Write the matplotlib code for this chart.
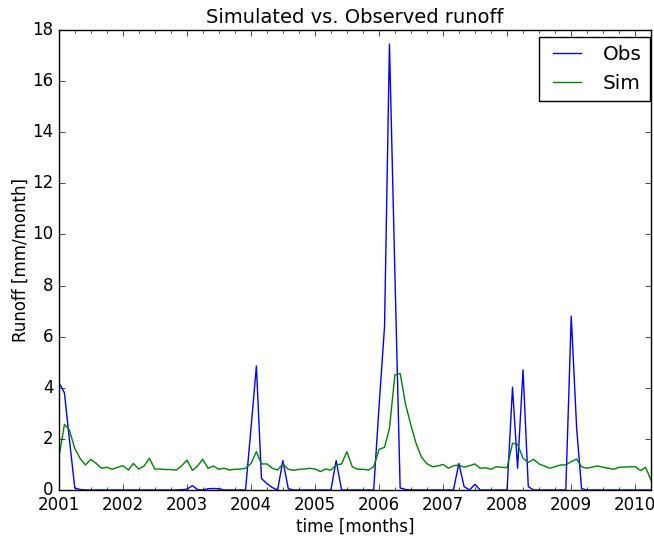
import matplotlib
matplotlib.use('Agg')
import matplotlib.pyplot as plt
import matplotlib.dates as mdates
import pandas as pd

plt.style.use('classic')
plt.rcParams['font.family'] = ['DejaVu Sans']

start_month = '2001-01-01'

obs_2001 = [4.2, 3.8, 2.0, 0.08, 0.02, 0, 0, 0, 0, 0, 0, 0]
obs_2002 = [0, 0, 0, 0, 0, 0, 0, 0, 0, 0, 0, 0.01]
obs_2003 = [0.03, 0.17, 0.02, 0, 0.05, 0.06, 0.05, 0, 0, 0, 0, 0]
obs_2004 = [2.4, 4.85, 0.45, 0.25, 0.1, 0, 1.15, 0.05, 0, 0, 0, 0]
obs_2005 = [0, 0, 0, 0, 1.15, 0, 0, 0, 0, 0, 0, 0]
obs_2006 = [3.3, 6.4, 17.45, 8.5, 0.08, 0.02, 0, 0, 0, 0, 0, 0]
obs_2007 = [0, 0, 0, 1.04, 0.13, 0, 0.22, 0, 0, 0, 0, 0]
obs_2008 = [0, 4.02, 0.85, 4.7, 0.13, 0, 0, 0, 0, 0, 0, 0]
obs_2009 = [6.8, 2.4, 0.05, 0, 0, 0, 0, 0, 0, 0, 0, 0]
obs_2010 = [0, 0, 0, 0]

sim_2001 = [1.3, 2.57, 2.35, 1.63, 1.24, 0.98, 1.2, 1.04, 0.85, 0.89, 0.81, 0.89]
sim_2002 = [0.95, 0.78, 1.04, 0.82, 0.94, 1.24, 0.82, 0.82, 0.8, 0.8, 0.78, 0.94]
sim_2003 = [1.17, 0.77, 0.93, 1.2, 0.85, 0.94, 0.81, 0.85, 0.78, 0.81, 0.82, 0.85]
sim_2004 = [1.04, 1.5, 1.02, 1.02, 0.85, 0.78, 1.02, 0.81, 0.77, 0.81, 0.82, 0.85]
sim_2005 = [0.82, 0.72, 0.82, 0.78, 0.98, 1.02, 1.5, 0.91, 0.81, 0.81, 0.78, 0.91]
sim_2006 = [1.59, 1.67, 2.41, 4.5, 4.56, 3.35, 2.55, 1.8, 1.27, 1.03, 0.91, 0.94]
sim_2007 = [1.0, 0.85, 0.95, 0.98, 0.89, 0.95, 1.02, 0.85, 0.87, 0.81, 0.91, 0.89]
sim_2008 = [0.87, 1.83, 1.79, 1.24, 1.08, 1.2, 1.02, 0.94, 0.85, 0.91, 0.98, 0.98]
sim_2009 = [1.11, 1.21, 0.91, 0.85, 0.9, 0.94, 0.89, 0.85, 0.81, 0.89, 0.9, 0.91]
sim_2010 = [0.91, 0.76, 0.89, 0.39]

obs = (obs_2001 + obs_2002 + obs_2003 + obs_2004 + obs_2005 + obs_2006 +
       obs_2007 + obs_2008 + obs_2009 + obs_2010)
sim = (sim_2001 + sim_2002 + sim_2003 + sim_2004 + sim_2005 + sim_2006 +
       sim_2007 + sim_2008 + sim_2009 + sim_2010)
dates = pd.date_range(start_month, periods=len(obs), freq='MS').to_pydatetime()

fig = plt.figure(figsize=(6.54, 5.37), dpi=100, facecolor='white')
ax = fig.add_axes([59/654, 1 - 490/537, (651 - 59)/654, (490 - 30)/537])
ax.set_facecolor('white')

ax.plot(dates, obs, color='b', lw=1.0, label='Obs')
ax.plot(dates, sim, color='g', lw=1.0, label='Sim')

ax.set_xlim(dates[0], dates[-1])
ax.set_ylim(0, 18)
ax.set_yticks(range(0, 19, 2))
ax.xaxis.set_major_locator(mdates.YearLocator())
ax.xaxis.set_major_formatter(mdates.DateFormatter('%Y'))
ax.xaxis.set_minor_locator(mdates.MonthLocator(bymonth=[4, 7, 10]))
ax.tick_params(axis='both', which='major', labelsize=12)

ax.set_title('Simulated vs. Observed runoff', fontsize=14)
ax.set_xlabel('time [months]', fontsize=12, labelpad=3)
ax.set_ylabel('Runoff [mm/month]', fontsize=12, labelpad=2)
ax.legend(loc='upper right', fontsize=14.4, borderaxespad=0,
          bbox_to_anchor=(1 - 1/592, 1 - 7/460))

fig.savefig('out.png', dpi=100, facecolor='white')
